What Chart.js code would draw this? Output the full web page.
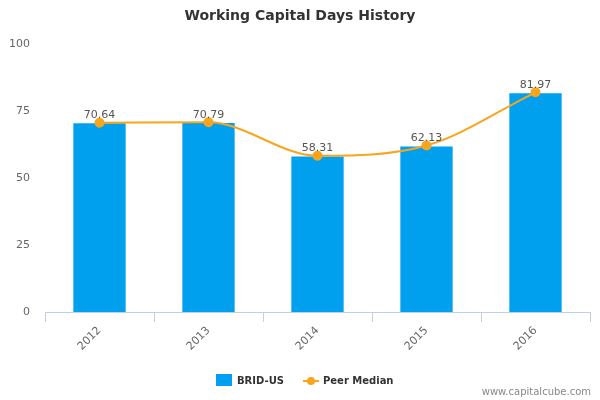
<!DOCTYPE html>
<html>
<head>
<meta charset="utf-8">
<script src="https://cdn.jsdelivr.net/npm/chart.js@4/dist/chart.umd.min.js"></script>
<style>
  html, body { margin: 0; padding: 0; background: #fff; }
  #wrap { width: 600px; height: 400px; position: relative; }
</style>
</head>
<body>
<div id="wrap"><canvas id="chart" width="600" height="400"></canvas></div>
<script>
const years = ['2012', '2013', '2014', '2015', '2016'];
const bridUs = [70.4, 70.5, 58.0, 61.8, 81.6];
const peerMedian = [70.64, 70.79, 58.31, 62.13, 81.97];
const yTicks = [0, 25, 50, 75, 100];

const FONT = "'DejaVu Sans', Verdana, sans-serif";
const BAR = '#00a0ee';
const LINE = '#f8a51e';
const AXIS = '#c0d0e0';

// value labels above the peer median points + title, legend, credit
const decorations = {
  id: 'decorations',
  afterDatasetsDraw(chart) {
    const ctx = chart.ctx;
    const meta = chart.getDatasetMeta(1);
    ctx.save();
    ctx.font = '11px ' + FONT;
    ctx.fillStyle = '#555';
    ctx.textAlign = 'center';
    ctx.textBaseline = 'bottom';
    meta.data.forEach((pt, i) => {
      ctx.fillText(peerMedian[i].toFixed(2), pt.x, pt.y - 2);
    });
    ctx.restore();
  },
  afterDraw(chart) {
    const ctx = chart.ctx;
    ctx.save();
    // title
    ctx.font = 'bold 14px ' + FONT;
    ctx.fillStyle = '#333';
    ctx.textAlign = 'center';
    ctx.textBaseline = 'middle';
    ctx.fillText('Working Capital Days History', 300, 16);

    // legend
    ctx.font = 'bold 10px ' + FONT;
    ctx.textAlign = 'left';
    ctx.fillStyle = BAR;
    ctx.fillRect(216, 374, 16, 12);
    ctx.fillStyle = '#333';
    ctx.fillText('BRID-US', 237, 381);
    ctx.strokeStyle = LINE;
    ctx.lineWidth = 2;
    ctx.beginPath();
    ctx.moveTo(303, 381);
    ctx.lineTo(319, 381);
    ctx.stroke();
    ctx.fillStyle = LINE;
    ctx.beginPath();
    ctx.arc(311, 381, 4, 0, Math.PI * 2);
    ctx.fill();
    ctx.fillStyle = '#333';
    ctx.fillText('Peer Median', 323, 381);

    // credit
    ctx.font = '10px ' + FONT;
    ctx.fillStyle = '#888';
    ctx.textAlign = 'right';
    ctx.fillText('www.capitalcube.com', 591, 392);
    ctx.restore();
  }
};

new Chart(document.getElementById('chart'), {
  data: {
    labels: years,
    datasets: [
      {
        type: 'bar',
        label: 'BRID-US',
        data: bridUs,
        backgroundColor: BAR,
        barPercentage: 0.48,
        categoryPercentage: 1,
        order: 2
      },
      {
        type: 'line',
        label: 'Peer Median',
        data: peerMedian,
        borderColor: LINE,
        backgroundColor: LINE,
        borderWidth: 2,
        pointRadius: 4,
        pointHoverRadius: 4,
        tension: 0.35,
        cubicInterpolationMode: 'monotone',
        fill: false,
        order: 1
      }
    ]
  },
  options: {
    responsive: false,
    animation: false,
    events: [],
    layout: { padding: { left: 0, right: 10, top: 44, bottom: 0 } },
    plugins: {
      legend: { display: false },
      title: { display: false },
      tooltip: { enabled: false }
    },
    scales: {
      x: {
        offset: true,
        grid: {
          offset: true,
          drawOnChartArea: false,
          drawTicks: true,
          tickLength: 10,
          color: AXIS
        },
        border: { display: true, color: AXIS, width: 1 },
        ticks: {
          color: '#666',
          font: { family: FONT, size: 11 },
          minRotation: 45,
          maxRotation: 45,
          padding: 2
        },
        afterFit(scale) { scale.height = 88; }
      },
      y: {
        min: 0,
        max: 100,
        grid: { display: false, drawTicks: false },
        border: { display: false },
        afterBuildTicks(scale) { scale.ticks = yTicks.map(v => ({ value: v })); },
        ticks: {
          color: '#666',
          font: { family: FONT, size: 11 },
          padding: 15
        },
        afterFit(scale) { scale.width = 45; }
      }
    }
  },
  plugins: [decorations]
});
</script>
</body>
</html>
